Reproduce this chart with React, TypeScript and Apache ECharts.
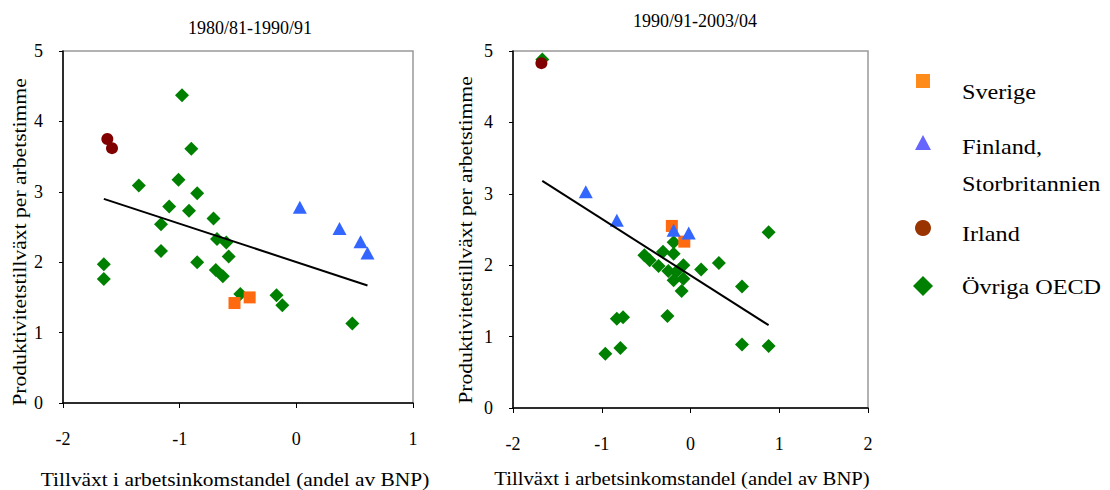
import React, { useEffect, useRef } from "react";
import * as echarts from "echarts";

const titles = ["1980/81-1990/91", "1990/91-2003/04"];
const xName = "Tillväxt i arbetsinkomstandel (andel av BNP)";
const yName = "Produktivitetstillväxt per arbetstimme";
const legendLabels = ["Sverige", "Finland,\nStorbritannien", "Irland", "Övriga OECD"];

// Left panel 1980/81-1990/91
const swedenA = [[-0.53, 1.42], [-0.40, 1.50]];
const finUkA = [[0.03, 2.78], [0.37, 2.48], [0.55, 2.29], [0.61, 2.13]];
const irelandA = [[-1.62, 3.75], [-1.58, 3.62]];
const oecdA = [
  [-0.98, 4.37], [-0.90, 3.61], [-1.35, 3.09], [-1.01, 3.17], [-0.85, 2.98],
  [-1.09, 2.79], [-0.92, 2.73], [-0.71, 2.62], [-1.16, 2.54], [-0.68, 2.33],
  [-0.60, 2.28], [-0.58, 2.08], [-1.16, 2.16], [-0.85, 2.00], [-1.65, 1.97],
  [-1.65, 1.76], [-0.69, 1.89], [-0.63, 1.80], [-0.48, 1.55], [-0.17, 1.53],
  [-0.12, 1.39], [0.48, 1.13],
];
const trendA = [[-1.65, 2.90], [0.61, 1.67]];

// Right panel 1990/91-2003/04
const swedenB = [[-0.21, 2.55], [-0.07, 2.33]];
const finUkB = [[-1.18, 3.03], [-0.83, 2.63], [-0.19, 2.49], [-0.02, 2.45]];
const irelandB = [[-1.68, 4.83]];
const oecdB = [
  [-1.67, 4.88], [-0.19, 2.32], [-0.31, 2.19], [-0.19, 2.16], [-0.52, 2.14],
  [-0.46, 2.07], [-0.36, 1.99], [-0.08, 2.00], [-0.25, 1.92], [-0.16, 1.91],
  [-0.19, 1.79], [-0.08, 1.81], [-0.10, 1.64], [0.12, 1.94], [0.32, 2.03],
  [0.58, 1.70], [0.88, 2.46], [-0.26, 1.29], [-0.83, 1.25], [-0.76, 1.27],
  [-0.79, 0.84], [-0.96, 0.76], [0.58, 0.89], [0.88, 0.87],
];
const trendB = [[-1.67, 3.18], [0.88, 1.16]];

const xRangeA = [-2, 1];
const xRangeB = [-2, 2];
const yRange = [0, 5];

const FONT = "Liberation Serif";
const C_SWE = "#FF6A10";
const C_FIN = "#3366FF";
const C_IRL = "#800000";
const C_OECD = "#008000";

export default function App() {
  const ref = useRef<HTMLDivElement>(null);
  useEffect(() => {
    if (!ref.current) return;
    const chart = echarts.init(ref.current, null, { renderer: "svg" });

    const mkX = (idx: number, range: number[]) => ({
      type: "value",
      gridIndex: idx,
      min: range[0],
      max: range[1],
      interval: 1,
      axisLine: { show: true, onZero: false, lineStyle: { color: "#000", width: 1.5 } },
      axisTick: { show: true, length: 5, lineStyle: { color: "#000" } },
      axisLabel: { fontFamily: FONT, fontSize: 18, color: "#000", margin: 27 },
      splitLine: { show: false },
    });
    const mkY = (idx: number) => ({
      type: "value",
      gridIndex: idx,
      min: yRange[0],
      max: yRange[1],
      interval: 1,
      axisLine: { show: true, onZero: false, lineStyle: { color: "#000", width: 1.5 } },
      axisTick: { show: true, length: 4, lineStyle: { color: "#000" } },
      axisLabel: { fontFamily: FONT, fontSize: 18, color: "#000", margin: 20 },
      splitLine: { show: false },
    });

    const scatter = (name: string, data: number[][], idx: number, symbol: string, size: any, color: string) => ({
      name,
      type: "scatter",
      xAxisIndex: idx,
      yAxisIndex: idx,
      data,
      symbol,
      symbolSize: size,
      itemStyle: { color, opacity: 1 },
    });
    const trend = (data: number[][], idx: number) => ({
      type: "line",
      xAxisIndex: idx,
      yAxisIndex: idx,
      data,
      symbol: "none",
      lineStyle: { color: "#000", width: 2 },
      z: 5,
    });

    const axisText = (text: string, x: number, y: number, rot: number, sx: number) => ({
      type: "text",
      x,
      y,
      rotation: rot,
      scaleX: sx,
      style: { text, fontFamily: FONT, fontSize: 18, fill: "#000", align: "center", verticalAlign: "middle" },
    });

    const lx = 923;
    const tx = 962;
    const legText = (text: string, y: number) => ({
      type: "text",
      x: tx,
      y,
      scaleX: 1.1,
      style: { text, fontFamily: FONT, fontSize: 22, fill: "#000", verticalAlign: "middle" },
    });
    const legendGraphic: any[] = [
      { type: "rect", shape: { x: lx - 7, y: 74, width: 14, height: 14 }, style: { fill: "#FF8C1A" } },
      legText(legendLabels[0], 91),
      { type: "polygon", shape: { points: [[lx, 135], [lx + 8, 150], [lx - 8, 150]] }, style: { fill: "#6666FF" } },
      legText(legendLabels[1].split("\n")[0], 146),
      legText(legendLabels[1].split("\n")[1], 183),
      { type: "circle", shape: { cx: lx, cy: 228, r: 8 }, style: { fill: "#993300" } },
      legText(legendLabels[2], 233),
      { type: "polygon", shape: { points: [[lx, 276], [lx + 10, 286], [lx, 296], [lx - 10, 286]] }, style: { fill: C_OECD } },
      legText(legendLabels[3], 286),
      axisText(xName, 235, 480, 0, 1.19),
      axisText(xName, 682, 479, 0, 1.15),
      axisText(yName, 20, 242, Math.PI / 2, 1.2),
      axisText(yName, 466, 240, Math.PI / 2, 1.2),
    ];

    chart.setOption({
      animation: false,
      textStyle: { fontFamily: FONT },
      title: [
        { text: titles[0], left: 245, top: 14, textAlign: "center", textStyle: { fontFamily: FONT, fontSize: 18, fontWeight: "normal", color: "#000" } },
        { text: titles[1], left: 690, top: 7, textAlign: "center", textStyle: { fontFamily: FONT, fontSize: 18, fontWeight: "normal", color: "#000" } },
      ],
      grid: [
        { left: 63, top: 51, width: 350, height: 352, show: true, borderColor: "#999", borderWidth: 1.5, backgroundColor: "transparent" },
        { left: 513, top: 51, width: 355, height: 357, show: true, borderColor: "#999", borderWidth: 1.5, backgroundColor: "transparent" },
      ],
      xAxis: [mkX(0, xRangeA), mkX(1, xRangeB)],
      yAxis: [mkY(0), mkY(1)],
      series: [
        scatter("Övriga OECD", oecdA, 0, "diamond", 14, C_OECD),
        scatter("Sverige", swedenA, 0, "rect", 12, C_SWE),
        scatter("Finland, Storbritannien", finUkA, 0, "triangle", [14, 13], C_FIN),
        scatter("Irland", irelandA, 0, "circle", 12, C_IRL),
        trend(trendA, 0),
        scatter("Övriga OECD", oecdB, 1, "diamond", 14, C_OECD),
        scatter("Sverige", swedenB, 1, "rect", 12, C_SWE),
        scatter("Finland, Storbritannien", finUkB, 1, "triangle", [14, 13], C_FIN),
        scatter("Irland", irelandB, 1, "circle", 12, C_IRL),
        trend(trendB, 1),
      ],
      graphic: legendGraphic,
    });
    return () => chart.dispose();
  }, []);
  return <div ref={ref} style={{ position: "fixed", left: 0, top: 0, width: 1110, height: 490, background: "#fff" }} />;
}
